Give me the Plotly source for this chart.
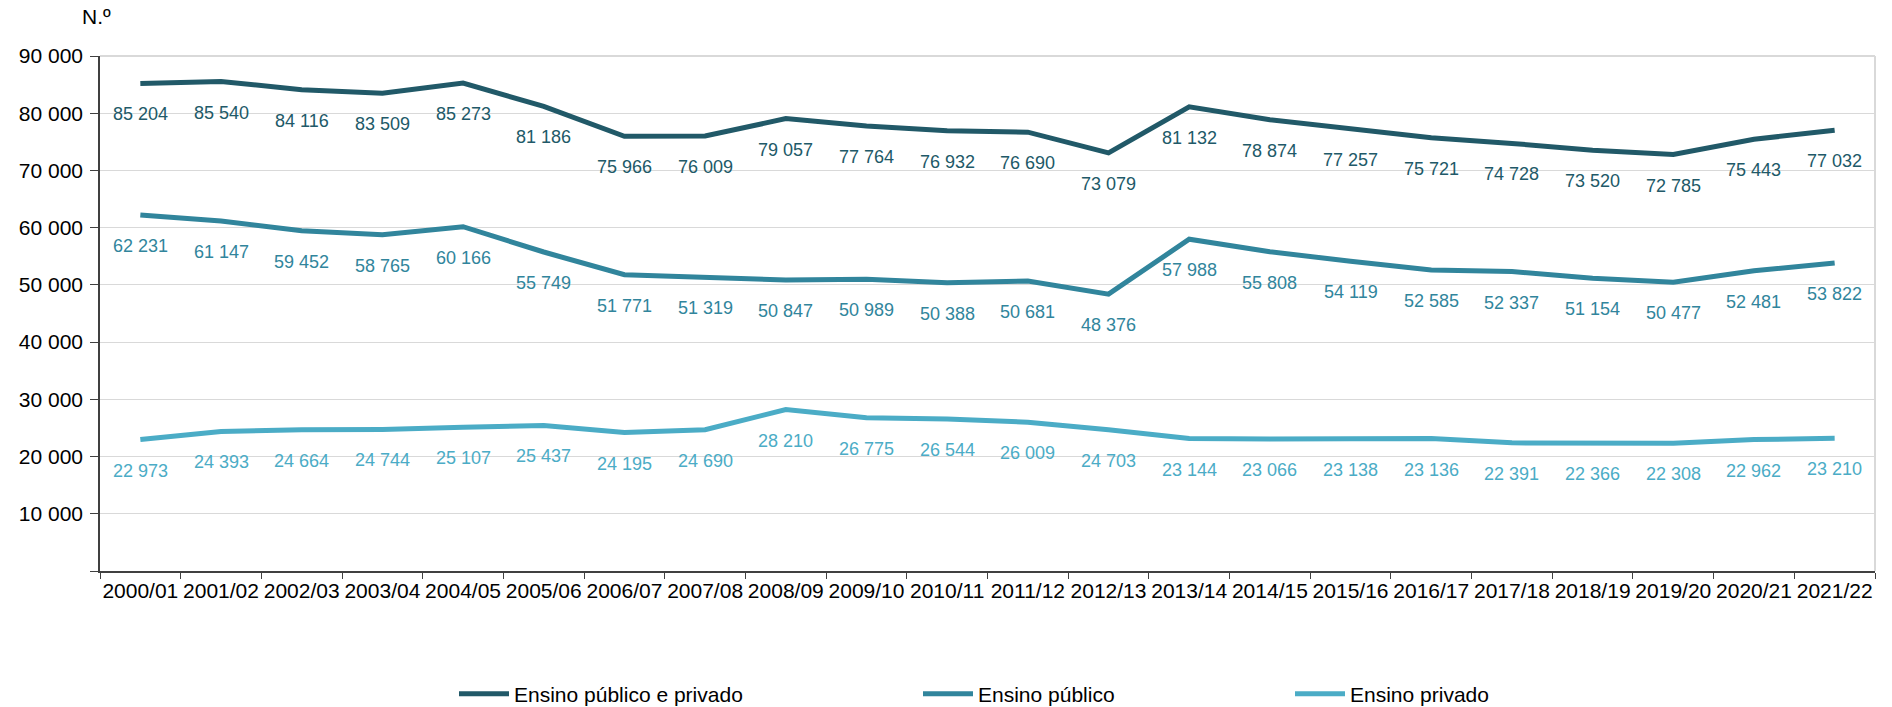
import plotly.graph_objects as go

# School years
anos = ["2000/01", "2001/02", "2002/03", "2003/04", "2004/05", "2005/06",
        "2006/07", "2007/08", "2008/09", "2009/10", "2010/11", "2011/12",
        "2012/13", "2013/14", "2014/15", "2015/16", "2016/17", "2017/18",
        "2018/19", "2019/20", "2020/21", "2021/22"]

# Number of students per school year
publico_privado = [85204, 85540, 84116, 83509, 85273, 81186, 75966, 76009,
                   79057, 77764, 76932, 76690, 73079, 81132, 78874, 77257,
                   75721, 74728, 73520, 72785, 75443, 77032]
publico = [62231, 61147, 59452, 58765, 60166, 55749, 51771, 51319, 50847,
           50989, 50388, 50681, 48376, 57988, 55808, 54119, 52585, 52337,
           51154, 50477, 52481, 53822]
privado = [22973, 24393, 24664, 24744, 25107, 25437, 24195, 24690, 28210,
           26775, 26544, 26009, 24703, 23144, 23066, 23138, 23136, 22391,
           22366, 22308, 22962, 23210]

nomes = ["Ensino público e privado", "Ensino público", "Ensino privado"]
cores = ["#215968", "#31859C", "#4BACC6"]

y_ticks = [0, 10000, 20000, 30000, 40000, 50000, 60000, 70000, 80000, 90000]

FONT = "Liberation Sans, Arial, sans-serif"


def fmt(v):
    return f"{v:,}".replace(",", " ")


W, H = 1892, 707
L, R, T, B = 100, 17, 56, 136
plot_w = W - L - R
plot_h = H - T - B


def px_x(px):
    return (px - L) / plot_w


def px_y(py):
    return (H - B - py) / plot_h


fig = go.Figure()

series = [publico_privado, publico, privado]
legend_ids = ["legend", "legend2", "legend3"]
legend_text_x = [513, 977, 1349]

annotations = []
for vals, nome, cor, lid in zip(series, nomes, cores, legend_ids):
    fig.add_trace(go.Scatter(
        x=anos, y=vals, name=nome, mode="lines",
        line=dict(color=cor, width=5),
        legend=lid, hoverinfo="x+y+name",
    ))
    for a, v in zip(anos, vals):
        annotations.append(dict(
            x=a, y=v, xref="x", yref="y", text=fmt(v), showarrow=False,
            yshift=-31, yanchor="middle", xanchor="center",
            font=dict(family=FONT, size=18, color=cor),
        ))

# axis title above the value axis
annotations.append(dict(
    x=px_x(80), y=px_y(16), xref="paper", yref="paper", text="N.º",
    showarrow=False, xanchor="left", yanchor="middle",
    font=dict(family=FONT, size=21, color="#000000"),
))

legend_common = dict(
    orientation="h", yanchor="middle", xanchor="left",
    bgcolor="rgba(0,0,0,0)", itemwidth=50,
    font=dict(family=FONT, size=21, color="#000000"),
)
legend_layout = {}
for lid, tx in zip(legend_ids, legend_text_x):
    legend_layout[lid] = dict(legend_common, x=px_x(tx - 59), y=px_y(694))

fig.update_layout(
    width=W, height=H,
    margin=dict(l=L, r=R, t=T, b=B, pad=0, autoexpand=False),
    paper_bgcolor="white", plot_bgcolor="white",
    showlegend=True,
    annotations=annotations,
    font=dict(family=FONT, size=21, color="#000000"),
    shapes=[
        dict(type="line", xref="paper", yref="paper", x0=0, x1=1, y0=1, y1=1,
             line=dict(color="#D9D9D9", width=2), layer="below"),
        dict(type="line", xref="paper", yref="paper", x0=1, x1=1, y0=0, y1=1,
             line=dict(color="#D9D9D9", width=2), layer="below"),
    ],
    **legend_layout,
)

fig.update_xaxes(
    type="category", range=[-0.5, len(anos) - 0.5], automargin=False,
    showgrid=False, showline=True, linecolor="#404040", linewidth=1.5,
    ticks="outside", tickson="boundaries", ticklen=6, tickcolor="#404040",
    tickangle=0, tickfont=dict(family=FONT, size=21, color="#000000"),
)
fig.update_yaxes(
    range=[0, 90000], tickvals=y_ticks, automargin=False,
    ticktext=["" if v == 0 else fmt(v) for v in y_ticks],
    showgrid=True, gridcolor="#D9D9D9", gridwidth=1,
    showline=True, linecolor="#404040", linewidth=1.5,
    ticks="outside", ticklen=8, tickcolor="#404040", ticklabelstandoff=3,
    tickfont=dict(family=FONT, size=21, color="#000000"),
    zeroline=False,
)

fig.write_html("out.html")
